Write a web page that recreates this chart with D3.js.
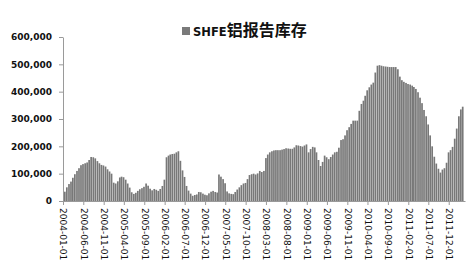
<!DOCTYPE html>
<html>
<head>
<meta charset="utf-8">
<script src="https://cdn.jsdelivr.net/npm/d3@7"></script>
<style>
  body { margin: 0; background: #fff; }
  .axis path, .axis line { stroke: #9a9a9a; }
  .yaxis text { font-family: "DejaVu Sans", sans-serif; font-weight: bold; font-size: 9px; fill: #111; }
  .xaxis text { font-family: "DejaVu Sans", sans-serif; font-size: 9px; fill: #111; }
</style>
</head>
<body>
<div id="chart"></div>
<script>
// SHFE aluminium reported stocks (tonnes), one value per half month from 2004-01-01
var startDate = "2004-01-01";
var stocks = [
  34000, 50000, 62000, 71000, 85000, 98000, 110000, 120000, 131000, 135000,
  138000, 141000, 150000, 161000, 160000, 156000, 146000, 138000, 132000, 130000,
  126000, 116000, 108000, 100000, 67000, 64000, 72000, 86000, 89000, 87000,
  78000, 64000, 49000, 32000, 26000, 30000, 37000, 43000, 47000, 52000,
  64000, 56000, 45000, 39000, 44000, 41000, 37000, 44000, 55000, 78000,
  160000, 166000, 170000, 172000, 173000, 178000, 182000, 147000, 112000, 88000,
  55000, 38000, 27000, 19000, 22000, 24000, 33000, 32000, 27000, 23000,
  21000, 28000, 34000, 37000, 33000, 31000, 97000, 89000, 80000, 65000,
  35000, 28000, 26000, 25000, 33000, 42000, 50000, 58000, 64000, 66000,
  80000, 95000, 98000, 100000, 97000, 101000, 110000, 106000, 110000, 157000,
  170000, 178000, 182000, 185000, 186000, 186000, 186000, 188000, 190000, 193000,
  192000, 191000, 191000, 196000, 204000, 203000, 201000, 199000, 203000, 207000,
  178000, 190000, 198000, 196000, 178000, 150000, 128000, 143000, 166000, 160000,
  153000, 161000, 170000, 178000, 180000, 195000, 223000, 226000, 240000, 259000,
  270000, 282000, 294000, 294000, 294000, 330000, 355000, 367000, 385000, 405000,
  416000, 426000, 433000, 470000, 495000, 497000, 495000, 493000, 492000, 491000,
  490000, 490000, 490000, 490000, 482000, 455000, 442000, 436000, 432000, 428000,
  426000, 422000, 417000, 410000, 398000, 378000, 358000, 333000, 310000, 280000,
  240000, 200000, 162000, 137000, 118000, 104000, 115000, 120000, 140000, 178000,
  186000, 198000, 228000, 265000, 310000, 335000, 345000
];
var tickLabels = [
  "2004-01-01", "2004-06-01", "2004-11-01", "2005-04-01", "2005-09-01",
  "2006-02-01", "2006-07-01", "2006-12-01", "2007-05-01", "2007-10-01",
  "2008-03-01", "2008-08-01", "2009-01-01", "2009-06-01", "2009-11-01",
  "2010-04-01", "2010-09-01", "2011-02-01", "2011-07-01", "2011-12-01"
];
var yTicks = [0, 100000, 200000, 300000, 400000, 500000, 600000];
var seriesName = "SHFE铝报告库存";

function init() {
    var w = 475;
    var h = 269;
    var left = 63;
    var right = 465;
    var top = 37;
    var bottom = 201;

    var parse = d3.utcParse("%Y-%m-%d");
    var start = parse(startDate);

    // half-month dates: the 1st and the 16th of each month
    var dataset = stocks.map(function(v, i) {
        var d = d3.utcMonth.offset(start, Math.floor(i / 2));
        if (i % 2 === 1) d = d3.utcDay.offset(d, 15);
        return { date: d, value: v };
    });

    var xScale = d3.scaleUtc()
        .domain([start, parse("2012-04-01")])
        .range([left, right]);

    var yScale = d3.scaleLinear()
        .domain([0, 600000])
        .range([bottom, top]);

    var svg = d3.select("#chart")
        .append("svg")
        .attr("width", w)
        .attr("height", h);

    svg.selectAll("rect.bar")
        .data(dataset)
        .enter()
        .append("rect")
        .attr("class", "bar")
        .attr("x", function(d) { return xScale(d.date) + 1; })
        .attr("width", 1.7)
        .attr("y", function(d) { return yScale(d.value); })
        .attr("height", function(d) { return yScale(0) - yScale(d.value); })
        .attr("fill", "#787878");

    var yAxis = d3.axisLeft(yScale)
        .tickValues(yTicks)
        .tickFormat(d3.format(","))
        .tickSize(4)
        .tickSizeOuter(0)
        .tickPadding(7);

    svg.append("g")
        .attr("class", "axis yaxis")
        .attr("transform", "translate(" + left + ",0)")
        .call(yAxis);

    var xAxis = d3.axisBottom(xScale)
        .tickValues(tickLabels.map(parse))
        .tickFormat(d3.utcFormat("%Y-%m-%d"))
        .tickSize(4)
        .tickSizeOuter(0);

    svg.append("g")
        .attr("class", "axis xaxis")
        .attr("transform", "translate(0," + bottom + ")")
        .call(xAxis)
        .selectAll("text")
        .attr("transform", "rotate(90)")
        .attr("x", 7)
        .attr("y", 0)
        .attr("dy", "0.35em")
        .style("text-anchor", "start");

    // legend / title
    svg.append("rect")
        .attr("x", 182)
        .attr("y", 27)
        .attr("width", 8)
        .attr("height", 8)
        .attr("fill", "#7a7a7a");

    var title = svg.append("text")
        .attr("x", 193)
        .attr("y", 35.5)
        .attr("font-weight", "bold")
        .attr("fill", "#111");
    title.append("tspan")
        .attr("font-family", "DejaVu Sans, sans-serif")
        .attr("font-size", "11.5px")
        .text(seriesName.slice(0, 4));
    title.append("tspan")
        .attr("font-family", "Noto Sans CJK SC, sans-serif")
        .attr("font-size", "16px")
        .text(seriesName.slice(4));
}

window.onload = init;
</script>
</body>
</html>
